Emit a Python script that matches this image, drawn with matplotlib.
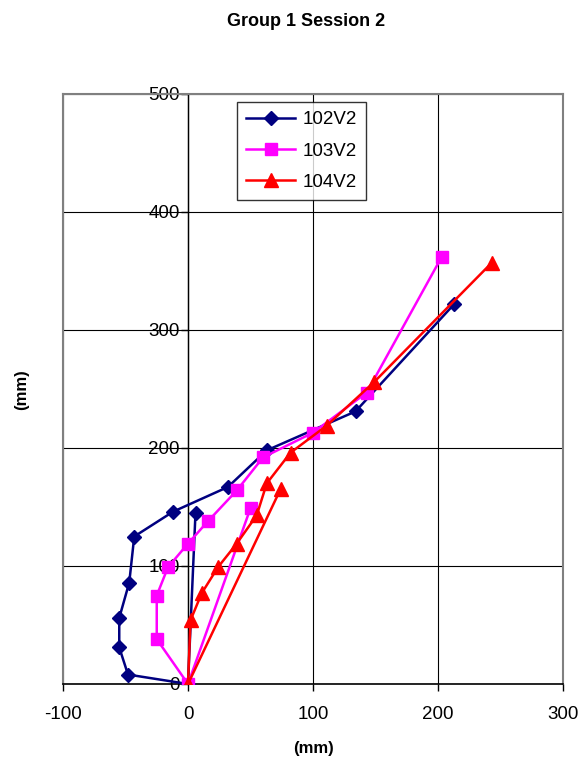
import matplotlib
matplotlib.use("Agg")
import matplotlib.pyplot as plt

plt.rcParams["font.family"] = ["Liberation Sans", "DejaVu Sans"]
plt.rcParams["axes.unicode_minus"] = False

# values (mm)
x102 = [6, 0, -48, -55, -55, -47, -43, -12, 32, 63, 134, 213]
y102 = [145, 0, 8, 31, 56, 86, 125, 146, 167, 198, 231, 322]

x103 = [50, 0, -25, -25, -16, 0, 16, 39, 60, 100, 143, 203]
y103 = [149, 0, 38, 75, 99, 119, 138, 164, 192, 213, 247, 362]

x104 = [74, 0, 2, 11, 24, 39, 55, 63, 82, 111, 149, 243]
y104 = [165, 0, 54, 77, 99, 119, 143, 170, 196, 219, 256, 357]

x_ticks = [-100, 0, 100, 200, 300]
y_ticks = [0, 100, 200, 300, 400, 500]

fig = plt.figure(figsize=(5.8, 7.64), dpi=100)
ax = fig.add_axes([63 / 580, 1 - 684 / 764, 500 / 580, 590 / 764])

ax.plot(x102, y102, color="#000080", marker="D", markersize=7, linewidth=1.8,
        label="102V2", zorder=3)
ax.plot(x103, y103, color="#FF00FF", marker="s", markersize=9, linewidth=1.8,
        label="103V2", zorder=4)
ax.plot(x104, y104, color="#FF0000", marker="^", markersize=10, linewidth=1.8,
        label="104V2", zorder=5)

ax.set_xlim(-100, 300)
ax.set_ylim(0, 500)
ax.set_xticks(x_ticks)
ax.set_yticks(y_ticks)
ax.grid(True, color="#000000", linewidth=0.8, zorder=0)
ax.set_axisbelow(True)

# y axis crosses at x = 0, plot area border in grey
ax.spines["left"].set_position(("data", 0))
ax.spines["left"].set_color("#000000")
ax.spines["left"].set_linewidth(1.0)
ax.spines["bottom"].set_color("#000000")
ax.spines["bottom"].set_linewidth(1.2)
for side in ["top", "right"]:
    ax.spines[side].set_color("#808080")
    ax.spines[side].set_linewidth(1.5)
ax.plot([0, 0], [0, 1], transform=ax.transAxes, color="#808080",
        linewidth=1.5, clip_on=False, zorder=1)

ax.tick_params(axis="both", direction="out", length=5, width=1,
               labelsize=13.5, color="#000000")
ax.tick_params(axis="y", pad=1)
ax.tick_params(axis="x", pad=11)

ax.set_xlabel("(mm)", fontsize=12, fontweight="bold", labelpad=13)
fig.text(0.038, 0.49, "(mm)", rotation=90, fontsize=12, fontweight="bold",
         ha="center", va="center")
fig.text(0.527, 0.972, "Group 1 Session 2", fontsize=13, fontweight="bold",
         ha="center", va="center")

leg = ax.legend(loc="upper left", bbox_to_anchor=(174 / 500, 1 - 8 / 590),
                fontsize=13.5, frameon=True, fancybox=False, borderpad=0.5,
                handlelength=2.6, handletextpad=0.4, labelspacing=0.75,
                borderaxespad=0)
leg.get_frame().set_edgecolor("#000000")
leg.get_frame().set_linewidth(1.0)

fig.savefig("out.png", dpi=100)
